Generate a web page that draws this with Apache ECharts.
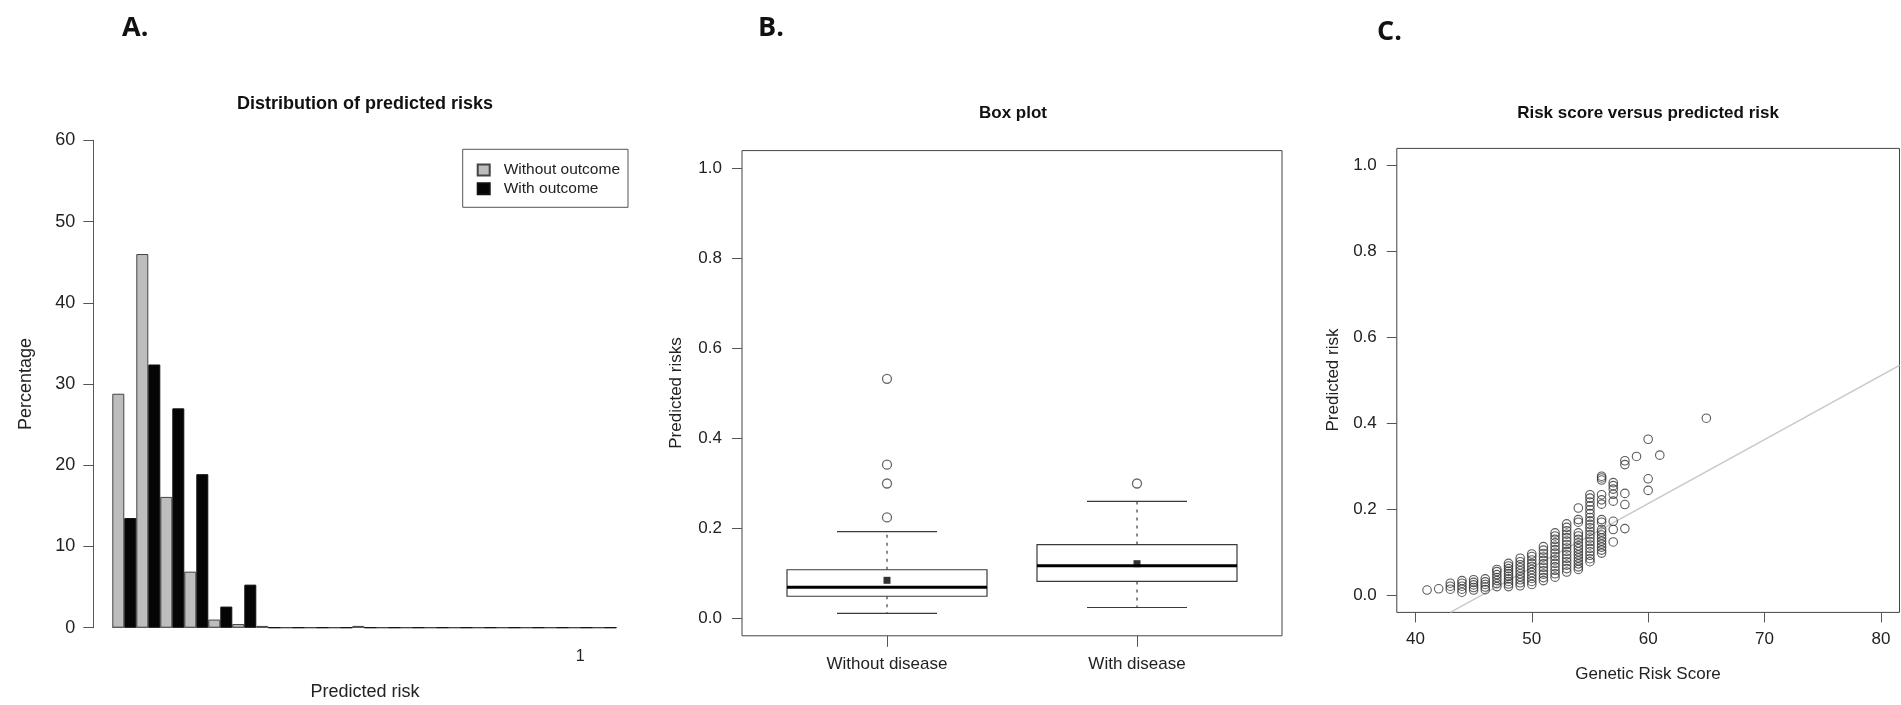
<!DOCTYPE html>
<html>
<head>
<meta charset="utf-8">
<script src="https://cdn.jsdelivr.net/npm/echarts@6/dist/echarts.min.js"></script>
<style>
  html, body { margin: 0; padding: 0; background: #ffffff; }
  #chart { width: 1901px; height: 705px; }
</style>
</head>
<body>
<div id="chart"></div>
<script>
// ---- Panel A: distribution of predicted risks (percentage per risk bin) ----
const binTickLabels = ['', '', '', '', '', '', '', '', '', '', '', '', '', '', '', '', '', '', '', '1', ''];
const withoutOutcome = [28.8, 46.0, 16.1, 6.9, 1.0, 0.45, 0.22, 0, 0, 0, 0.22, 0, 0, 0, 0, 0, 0, 0, 0, 0, 0];
const withOutcome    = [13.5, 32.4, 27.0, 18.9, 2.6, 5.3, 0, 0, 0, 0, 0, 0, 0, 0, 0, 0, 0, 0, 0, 0, 0];
const percentTicks = [0, 10, 20, 30, 40, 50, 60];

// ---- Panel B: box plot of predicted risks by disease status ----
const groups = ['Without disease', 'With disease'];
// [lower whisker, Q1, median, Q3, upper whisker]
const boxStats = [
  [0.010, 0.048, 0.068, 0.107, 0.192],
  [0.023, 0.081, 0.116, 0.163, 0.259]
];
const groupMeans = [0.0835, 0.1205];
const outlierGroup = [1, 1, 1, 1, 2];
const outlierRisk  = [0.532, 0.341, 0.299, 0.2235, 0.299];
const riskTicks = [0, 0.2, 0.4, 0.6, 0.8, 1.0];

// ---- Panel C: genetic risk score versus predicted risk ----
const scores = [41, 42, 43, 44, 45, 46, 47, 48, 49, 50, 51, 52, 53, 54, 55, 56, 57, 58, 59, 60, 61, 65];
const risksByScore = [
  [0.012],
  [0.015],
  [0.014, 0.021, 0.028],
  [0.007, 0.014, 0.021, 0.028, 0.034],
  [0.012, 0.018, 0.024, 0.030, 0.036],
  [0.013, 0.019, 0.025, 0.031, 0.038],
  [0.020, 0.027, 0.034, 0.041, 0.048, 0.055, 0.060],
  [0.020, 0.026, 0.032, 0.038, 0.044, 0.050, 0.056, 0.062, 0.068, 0.074],
  [0.022, 0.029, 0.036, 0.043, 0.050, 0.057, 0.064, 0.071, 0.078, 0.086],
  [0.025, 0.032, 0.039, 0.046, 0.053, 0.060, 0.067, 0.074, 0.082, 0.090, 0.096],
  [0.034, 0.041, 0.049, 0.057, 0.065, 0.073, 0.081, 0.089, 0.097, 0.105, 0.113],
  [0.042, 0.050, 0.058, 0.066, 0.074, 0.082, 0.090, 0.098, 0.106, 0.114, 0.122, 0.130, 0.138, 0.145],
  [0.054, 0.062, 0.070, 0.078, 0.086, 0.094, 0.102, 0.110, 0.118, 0.126, 0.134, 0.142, 0.150, 0.158, 0.166],
  [0.060, 0.066, 0.073, 0.080, 0.087, 0.094, 0.101, 0.108, 0.115, 0.122, 0.130, 0.138, 0.145, 0.170, 0.176, 0.203],
  [0.078, 0.085, 0.093, 0.101, 0.109, 0.117, 0.125, 0.133, 0.141, 0.149, 0.157, 0.165, 0.173, 0.181, 0.190, 0.199, 0.208, 0.217, 0.226, 0.234],
  [0.098, 0.105, 0.112, 0.119, 0.126, 0.133, 0.140, 0.147, 0.153, 0.170, 0.176, 0.212, 0.222, 0.234, 0.268, 0.273, 0.277],
  [0.124, 0.153, 0.172, 0.219, 0.235, 0.247, 0.255, 0.262],
  [0.155, 0.211, 0.237, 0.304, 0.313],
  [0.323],
  [0.244, 0.271, 0.363],
  [0.326],
  [0.412]
];
const scoreTicks = [40, 50, 60, 70, 80];
// end points of the fitted reference line
const fitLine = [[43.0, -0.04], [81.6, 0.535]];

// ---- helpers building series data from the arrays above ----
const scatterPoints = [];
scores.forEach((s, i) => risksByScore[i].forEach(r => scatterPoints.push([s, r])));
const boxData = boxStats.map((s, i) => [i + 1].concat(s));
const meanData = groupMeans.map((m, i) => [i + 1, m]);
const outlierData = outlierRisk.map((r, i) => [outlierGroup[i], r]);

const FONT = "'Liberation Sans', Arial, Helvetica, sans-serif";
const TXT = '#222';
const AX = '#555';

const chart = echarts.init(document.getElementById('chart'), null, { renderer: 'canvas' });

function textEl(text, x, y, size, opts) {
  opts = opts || {};
  return {
    type: 'text',
    x: x, y: y,
    rotation: opts.rotate ? Math.PI / 2 : 0,
    silent: true,
    style: {
      text: text,
      x: 0, y: 0,
      align: opts.align || 'center',
      verticalAlign: 'middle',
      fill: opts.color || TXT,
      font: (opts.bold ? 'bold ' : '') + size + 'px ' + (opts.family || FONT)
    }
  };
}

const LETTER_FONT = "'Open Sans', 'Noto Sans', sans-serif";

const valueLabel = (size, margin) => ({ color: TXT, fontSize: size, fontFamily: FONT, margin: margin });
const hiddenLine = { show: false, onZero: false };

const option = {
  animation: false,
  textStyle: { fontFamily: FONT },
  graphic: [
    textEl('A.', 122, 28, 27, { bold: true, align: 'left', family: LETTER_FONT, color: '#111' }),
    textEl('B.', 758, 28, 27, { bold: true, align: 'left', family: LETTER_FONT, color: '#111' }),
    textEl('C.', 1377, 32, 27, { bold: true, align: 'left', family: LETTER_FONT, color: '#111' }),
    textEl('Distribution of predicted risks', 365, 104, 18, { bold: true, color: '#111' }),
    textEl('Box plot', 1013, 113, 17, { bold: true, color: '#111' }),
    textEl('Risk score versus predicted risk', 1648, 113, 17, { bold: true, color: '#111' }),
    textEl('Percentage', 26.5, 384, 18, { rotate: true }),
    textEl('Predicted risk', 365, 692, 18),
    textEl('Predicted risks', 676, 393, 17, { rotate: true }),
    textEl('Predicted risk', 1333.5, 380, 17, { rotate: true }),
    textEl('Genetic Risk Score', 1648, 674.5, 17)
  ],
  legend: {
    data: ['Without outcome', 'With outcome'],
    orient: 'vertical',
    left: 462.7,
    top: 149.3,
    padding: [12.7, 8, 10.6, 14],
    borderColor: '#555',
    borderWidth: 1,
    itemWidth: 12,
    itemHeight: 11,
    itemGap: 2.7,
    icon: 'rect',
    selectedMode: false,
    textStyle: { fontSize: 15.5, lineHeight: 16, color: TXT, fontFamily: FONT, padding: [0, 0, 0, 9] }
  },
  grid: [
    { left: 112.3, top: 140.3, width: 504, height: 487.4 },
    { left: 742, top: 150.6, width: 540, height: 485.2, show: true, borderColor: '#444', borderWidth: 1, backgroundColor: 'transparent' },
    { left: 1396.8, top: 148.4, width: 502.7, height: 464, show: true, borderColor: '#444', borderWidth: 1, backgroundColor: 'transparent' }
  ],
  xAxis: [
    {
      gridIndex: 0, type: 'category', data: binTickLabels.map((_, i) => i),
      axisLine: { show: true, onZero: false, lineStyle: { color: '#888', width: 1 } },
      axisTick: { show: false },
      axisLabel: { interval: 0, formatter: (v, i) => binTickLabels[i], color: TXT, fontSize: 16, fontFamily: FONT, margin: 21 },
      splitLine: { show: false }
    },
    {
      gridIndex: 1, type: 'value', min: 0.42, max: 2.58, position: 'bottom',
      axisLine: hiddenLine,
      axisTick: { show: true, inside: false, customValues: [1, 2], length: 11, lineStyle: { color: AX } },
      axisLabel: Object.assign(valueLabel(17, 20), { customValues: [1, 2], formatter: v => groups[Math.round(v) - 1] }),
      splitLine: { show: false }
    },
    {
      gridIndex: 2, type: 'value', min: 38.4, max: 81.6, position: 'bottom',
      axisLine: hiddenLine,
      axisTick: { show: true, inside: false, customValues: scoreTicks, length: 10, lineStyle: { color: AX } },
      axisLabel: Object.assign(valueLabel(17, 18), { customValues: scoreTicks, formatter: v => String(v) }),
      splitLine: { show: false }
    }
  ],
  yAxis: [
    {
      gridIndex: 0, type: 'value', min: 0, max: 60, interval: 10, offset: 19,
      axisLine: { show: true, onZero: false, lineStyle: { color: AX, width: 1 } },
      axisTick: { show: true, length: 10, lineStyle: { color: AX } },
      axisLabel: Object.assign(valueLabel(18, 18), { customValues: percentTicks }),
      splitLine: { show: false }
    },
    {
      gridIndex: 1, type: 'value', min: -0.04, max: 1.04, position: 'left',
      axisLine: hiddenLine,
      axisTick: { show: true, inside: false, customValues: riskTicks, length: 10, lineStyle: { color: AX } },
      axisLabel: Object.assign(valueLabel(17, 20), { customValues: riskTicks, formatter: v => v.toFixed(1) }),
      splitLine: { show: false }
    },
    {
      gridIndex: 2, type: 'value', min: -0.04, max: 1.04, position: 'left',
      axisLine: hiddenLine,
      axisTick: { show: true, inside: false, customValues: riskTicks, length: 10, lineStyle: { color: AX } },
      axisLabel: Object.assign(valueLabel(17, 20), { customValues: riskTicks, formatter: v => v.toFixed(1) }),
      splitLine: { show: false }
    }
  ],
  series: [
    {
      name: 'Without outcome', type: 'bar', xAxisIndex: 0, yAxisIndex: 0,
      data: withoutOutcome, barGap: '0%', barCategoryGap: '0%',
      itemStyle: { color: '#bdbdbd', borderColor: '#444', borderWidth: 1 }
    },
    {
      name: 'With outcome', type: 'bar', xAxisIndex: 0, yAxisIndex: 0,
      data: withOutcome, barGap: '0%', barCategoryGap: '0%',
      itemStyle: { color: '#050505', borderColor: '#111', borderWidth: 1 }
    },
    {
      name: 'box', type: 'custom', xAxisIndex: 1, yAxisIndex: 1,
      data: boxData,
      encode: { x: 0, y: [1, 2, 3, 4, 5] },
      renderItem: function (params, api) {
        const x = api.value(0);
        const lo = api.coord([x, api.value(1)]);
        const q1 = api.coord([x, api.value(2)]);
        const md = api.coord([x, api.value(3)]);
        const q3 = api.coord([x, api.value(4)]);
        const hi = api.coord([x, api.value(5)]);
        const boxW = api.size([0.8, 0])[0];
        const capW = api.size([0.4, 0])[0];
        const cx = lo[0];
        const thin = { stroke: '#3a3a3a', lineWidth: 1.2 };
        const dashed = { stroke: '#3a3a3a', lineWidth: 1.2, lineDash: [3, 5] };
        return {
          type: 'group',
          children: [
            { type: 'line', shape: { x1: cx, y1: q3[1], x2: cx, y2: hi[1] }, style: dashed },
            { type: 'line', shape: { x1: cx, y1: q1[1], x2: cx, y2: lo[1] }, style: dashed },
            { type: 'line', shape: { x1: cx - capW / 2, y1: hi[1], x2: cx + capW / 2, y2: hi[1] }, style: thin },
            { type: 'line', shape: { x1: cx - capW / 2, y1: lo[1], x2: cx + capW / 2, y2: lo[1] }, style: thin },
            { type: 'rect', shape: { x: cx - boxW / 2, y: q3[1], width: boxW, height: q1[1] - q3[1] },
              style: { fill: '#ffffff', stroke: '#3a3a3a', lineWidth: 1.2 } },
            { type: 'line', shape: { x1: cx - boxW / 2, y1: md[1], x2: cx + boxW / 2, y2: md[1] },
              style: { stroke: '#000', lineWidth: 3 } }
          ]
        };
      }
    },
    {
      name: 'mean', type: 'scatter', xAxisIndex: 1, yAxisIndex: 1,
      data: meanData, symbol: 'rect', symbolSize: 7, z: 5,
      itemStyle: { color: '#000' }
    },
    {
      name: 'outliers', type: 'scatter', xAxisIndex: 1, yAxisIndex: 1,
      data: outlierData, symbol: 'circle', symbolSize: 9,
      itemStyle: { color: 'rgba(0,0,0,0)', borderColor: '#444', borderWidth: 1.3 }
    },
    {
      name: 'fit', type: 'line', xAxisIndex: 2, yAxisIndex: 2,
      data: fitLine, symbol: 'none', clip: true, z: 1,
      lineStyle: { color: '#c8c8c8', width: 1.5 }
    },
    {
      name: 'risk', type: 'scatter', xAxisIndex: 2, yAxisIndex: 2,
      data: scatterPoints, symbol: 'circle', symbolSize: 8.5, z: 3,
      itemStyle: { color: 'rgba(0,0,0,0)', borderColor: '#333', borderWidth: 1.1 }
    }
  ]
};

chart.setOption(option);
</script>
</body>
</html>
